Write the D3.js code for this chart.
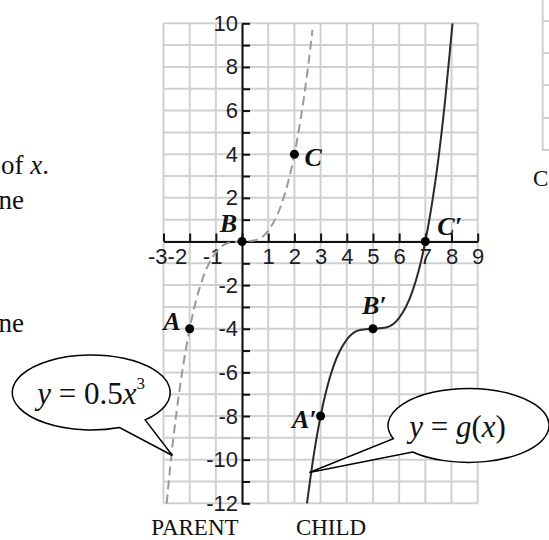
<!DOCTYPE html>
<html lang="en">
<head>
  <meta charset="UTF-8">
  <title>Parent and child cubic</title>
  <script src="https://d3js.org/d3.v7.min.js"></script>
  <style>
    body { margin: 0; padding: 0; background: #fff; }
    svg { display: block; }
    .serif { font-family: "Liberation Serif", "Times New Roman", serif; fill: #111; }
    .tick text { font-family: "Liberation Sans", Arial, sans-serif; font-size: 22px; fill: #1c1c28; }
  </style>
</head>
<body>
  <svg id="chart" width="549" height="540"></svg>

  <script>
    // grid extent
    const xTicks = d3.range(-3, 10);
    const yTicks = d3.range(-12, 11);

    // parent y = 0.5x^3
    const parentX = [-2.88, -2.75, -2.5, -2.25, -2, -1.75, -1.5, -1, -0.5, 0, 0.5, 1, 1.5, 1.75, 2, 2.25, 2.5, 2.69];
    const parentY = [-12, -10.4, -7.8, -5.7, -4, -2.68, -1.69, -0.5, -0.06, 0, 0.06, 0.5, 1.69, 2.68, 4, 5.7, 7.8, 9.7];

    // child y = g(x)
    const childX = [2.48, 2.75, 3, 3.25, 3.5, 4, 4.5, 5, 5.5, 6, 6.5, 6.75, 7, 7.25, 7.5, 7.75, 8.04];
    const childY = [-12, -9.7, -8, -6.68, -5.69, -4.5, -4.06, -4, -3.94, -3.5, -2.31, -1.32, 0, 1.7, 3.8, 6.4, 10];

    const pointNames = ["A", "B", "C", "A′", "B′", "C′"];
    const pointX = [-2, 0, 2, 3, 5, 7];
    const pointY = [-4, 0, 4, -8, -4, 0];

    const sideText = ["of x.", "ne", "ne"];

    const svg = d3.select("#chart");

    const x = d3.scaleLinear().domain([-3, 9]).range([163.5, 477.7]);
    const y = d3.scaleLinear().domain([-12, 10]).range([503.3, 23.3]);

    // grid
    const grid = svg.append("g").attr("stroke", "#d0d0d0").attr("stroke-width", 2);
    grid.selectAll("line.v").data(xTicks).enter().append("line")
      .attr("x1", d => x(d)).attr("x2", d => x(d))
      .attr("y1", y(-12)).attr("y2", y(10));
    grid.selectAll("line.h").data(yTicks).enter().append("line")
      .attr("x1", x(-3)).attr("x2", x(9))
      .attr("y1", d => y(d)).attr("y2", d => y(d));

    // neighbouring chart fragment on the right
    const frag = svg.append("g").attr("stroke", "#d0d0d0").attr("stroke-width", 2);
    frag.append("line").attr("x1", 542.7).attr("x2", 542.7).attr("y1", 0).attr("y2", 151);
    frag.selectAll("line.f").data([21, 53, 85, 118, 150]).enter().append("line")
      .attr("x1", 542.7).attr("x2", 549).attr("y1", d => d).attr("y2", d => d);
    svg.append("text").attr("class", "serif").attr("x", 533).attr("y", 186)
      .attr("font-size", 23).text("C");

    // axes
    const yAxis = d3.axisLeft(y).tickValues(yTicks)
      .tickSizeInner(-8).tickSizeOuter(0).tickPadding(4)
      .tickFormat(d => (d % 2 === 0 && d !== 0) ? d : "");
    const xAxis = d3.axisBottom(x).tickValues(xTicks)
      .tickSizeInner(-8).tickSizeOuter(0).tickPadding(7)
      .tickFormat(d => d === 0 ? "" : d);

    const gy = svg.append("g").attr("transform", `translate(${x(0)},0)`).call(yAxis);
    const gx = svg.append("g").attr("transform", `translate(0,${y(0)})`).call(xAxis);
    [gx, gy].forEach(g => {
      g.select(".domain").attr("stroke", "#111").attr("stroke-width", 2);
      g.selectAll(".tick line").attr("stroke", "#111").attr("stroke-width", 2);
    });
    // negative x labels: digit near the tick, minus hanging left, packed like the original
    const negShift = { "-3": 3.5, "-2": -3, "-1": 6 };
    gx.selectAll(".tick text")
      .attr("text-anchor", d => d < 0 ? "end" : "middle")
      .attr("dx", d => d < 0 ? negShift[d] : 0);

    // curves
    const line = d3.line().x(d => x(d[0])).y(d => y(d[1])).curve(d3.curveMonotoneX);
    svg.append("path")
      .datum(parentX.map((v, i) => [v, parentY[i]]))
      .attr("d", line)
      .attr("fill", "none").attr("stroke", "#9a9a9a").attr("stroke-width", 2)
      .attr("stroke-dasharray", "9,5");
    svg.append("path")
      .datum(childX.map((v, i) => [v, childY[i]]))
      .attr("d", line)
      .attr("fill", "none").attr("stroke", "#2a2a2a").attr("stroke-width", 2);

    // points and labels
    const labelPos = {
      "A": { dx: -9, dy: 1, anchor: "end" },
      "B": { dx: -5, dy: -9, anchor: "end" },
      "C": { dx: 10, dy: 12, anchor: "start" },
      "A′": { dx: -4, dy: 12, anchor: "end" },
      "B′": { dx: -11, dy: -15, anchor: "start" },
      "C′": { dx: 12, dy: -6, anchor: "start" }
    };
    const pts = pointNames.map((n, i) => ({ name: n, x: pointX[i], y: pointY[i] }));
    svg.selectAll("circle.pt").data(pts).enter().append("circle")
      .attr("cx", d => x(d.x)).attr("cy", d => y(d.y)).attr("r", 4.5).attr("fill", "#000");
    svg.selectAll("text.pt").data(pts).enter().append("text")
      .attr("class", "serif")
      .attr("x", d => x(d.x) + labelPos[d.name].dx)
      .attr("y", d => y(d.y) + labelPos[d.name].dy)
      .attr("text-anchor", d => labelPos[d.name].anchor)
      .attr("font-size", 26).attr("font-weight", "bold").attr("font-style", "italic")
      .text(d => d.name);

    // speech bubbles
    const callouts = [
      { cx: -5.76, cy: -6.92, rx: 79, ry: 37.5, a1: 47, a2: 69, tipX: -2.66, tipY: -9.81, textDx: 0,
        parts: [["y", true], [" = 0.5", false], ["x", true]], sup: "3" },
      { cx: 8.65, cy: -8.43, rx: 80.5, ry: 37, a1: 134, a2: 159, tipX: 2.57, tipY: -10.59, textDx: -11,
        parts: [["y", true], [" = ", false], ["g", true], ["(", false], ["x", true], [")", false]] }
    ];
    callouts.forEach(c => {
      const cx = x(c.cx), cy = y(c.cy);
      const p = a => [cx + c.rx * Math.cos(a * Math.PI / 180), cy + c.ry * Math.sin(a * Math.PI / 180)];
      const s = p(c.a1), e = p(c.a2);
      svg.append("path")
        .attr("d", `M${s[0]},${s[1]} A${c.rx},${c.ry} 0 1 0 ${e[0]},${e[1]} L${x(c.tipX)},${y(c.tipY)} Z`)
        .attr("fill", "#fff").attr("stroke", "#000").attr("stroke-width", 1.5);
      const t = svg.append("text").attr("class", "serif")
        .attr("x", cx + c.textDx).attr("y", cy + 12)
        .attr("text-anchor", "middle").attr("font-size", 31);
      c.parts.forEach(([str, it]) => {
        t.append("tspan").attr("font-style", it ? "italic" : "normal").text(str);
      });
      if (c.sup) {
        t.append("tspan").attr("font-size", 17).attr("dy", -15).text(c.sup);
      }
    });

    // captions
    svg.append("text").attr("class", "serif").attr("x", x(-1.8)).attr("y", 535)
      .attr("text-anchor", "middle").attr("font-size", 23).text("PARENT");
    svg.append("text").attr("class", "serif").attr("x", x(3.4)).attr("y", 535)
      .attr("text-anchor", "middle").attr("font-size", 23).text("CHILD");

    // text of the neighbouring page column on the left
    const side = svg.append("g").attr("class", "serif").attr("font-size", 27).attr("text-anchor", "end");
    const sideY = [174, 209, 332];
    const sideEnd = [49, 24, 24];
    sideText.forEach((s, i) => {
      const t = side.append("text").attr("x", sideEnd[i]).attr("y", sideY[i]);
      if (i === 0) {
        t.append("tspan").text("of ");
        t.append("tspan").attr("font-style", "italic").text("x");
        t.append("tspan").text(".");
      } else {
        t.text(s);
      }
    });
  </script>
</body>
</html>
